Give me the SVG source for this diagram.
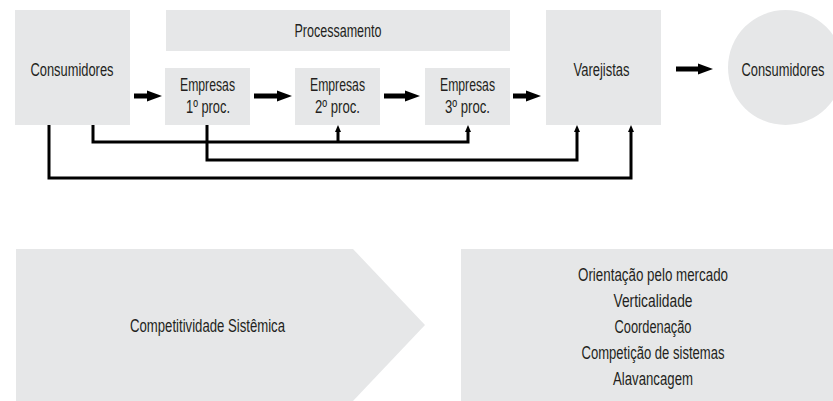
<svg xmlns="http://www.w3.org/2000/svg" width="833" height="401" viewBox="0 0 833 401">
  <defs>
    <style>
      .box { fill: #e6e7e8; stroke: none; }
      .lbl { font-family: "Liberation Sans", Arial, sans-serif; font-size: 17.5px; fill: #231f20; text-anchor: middle; }
      .thick { stroke: #000; stroke-width: 5; fill: none; marker-end: url(#headBig); }
      .thin { stroke: #000; stroke-width: 3; fill: none; stroke-linejoin: miter; marker-end: url(#headSmall); }
    </style>
    <marker id="headBig" markerUnits="userSpaceOnUse" markerWidth="16" markerHeight="12" refX="0" refY="6" orient="auto" viewBox="0 0 16 12">
      <path d="M0,0.5 L15,6 L0,11.5 z" fill="#000"/>
    </marker>
    <marker id="headSmall" markerUnits="userSpaceOnUse" markerWidth="8" markerHeight="7" refX="0" refY="3.5" orient="auto" viewBox="0 0 8 7">
      <path d="M0,0.5 L7,3.5 L0,6.5 z" fill="#000"/>
    </marker>
  </defs>

  <g id="consumidores-origem">
    <rect class="box" x="15" y="10" width="115" height="115"/>
    <text class="lbl" x="72" y="76" textLength="83" lengthAdjust="spacingAndGlyphs">Consumidores</text>
  </g>

  <g id="processamento">
    <rect class="box" x="166" y="10" width="344" height="41"/>
    <text class="lbl" x="338" y="37" textLength="87" lengthAdjust="spacingAndGlyphs">Processamento</text>
  </g>

  <g id="empresas-1">
    <rect class="box" x="165" y="68" width="85" height="57"/>
    <text class="lbl" x="207.5" y="91" textLength="55" lengthAdjust="spacingAndGlyphs">Empresas</text>
    <text class="lbl" x="208" y="113" textLength="44" lengthAdjust="spacingAndGlyphs">1º proc.</text>
  </g>

  <g id="empresas-2">
    <rect class="box" x="295" y="68" width="85" height="57"/>
    <text class="lbl" x="337.5" y="91" textLength="55" lengthAdjust="spacingAndGlyphs">Empresas</text>
    <text class="lbl" x="337.5" y="113" textLength="45" lengthAdjust="spacingAndGlyphs">2º proc.</text>
  </g>

  <g id="empresas-3">
    <rect class="box" x="425" y="68" width="85" height="57"/>
    <text class="lbl" x="467.5" y="91" textLength="55" lengthAdjust="spacingAndGlyphs">Empresas</text>
    <text class="lbl" x="467.5" y="113" textLength="45" lengthAdjust="spacingAndGlyphs">3º proc.</text>
  </g>

  <g id="varejistas">
    <rect class="box" x="546" y="10" width="115" height="115"/>
    <text class="lbl" x="601.5" y="76" textLength="56" lengthAdjust="spacingAndGlyphs">Varejistas</text>
  </g>

  <g id="consumidores-final">
    <circle class="box" cx="785.5" cy="67.5" r="57.5"/>
    <text class="lbl" x="783" y="76" textLength="83" lengthAdjust="spacingAndGlyphs">Consumidores</text>
  </g>

  <g id="competitividade">
    <polygon class="box" points="16,249 353,249 425,325 353,401 16,401"/>
    <text class="lbl" x="207.5" y="332" textLength="155" lengthAdjust="spacingAndGlyphs">Competitividade Sistêmica</text>
  </g>

  <g id="caracteristicas">
    <rect class="box" x="461" y="249" width="372" height="152"/>
    <text class="lbl" x="653" y="281" textLength="150" lengthAdjust="spacingAndGlyphs">Orientação pelo mercado</text>
    <text class="lbl" x="653" y="307" textLength="79" lengthAdjust="spacingAndGlyphs">Verticalidade</text>
    <text class="lbl" x="653" y="333" textLength="77" lengthAdjust="spacingAndGlyphs">Coordenação</text>
    <text class="lbl" x="653" y="359" textLength="143" lengthAdjust="spacingAndGlyphs">Competição de sistemas</text>
    <text class="lbl" x="653" y="385" textLength="80" lengthAdjust="spacingAndGlyphs">Alavancagem</text>
  </g>

  <g id="connectors">
    <line class="thick" x1="134" y1="96" x2="147" y2="96"/>
    <line class="thick" x1="254" y1="96" x2="277" y2="96"/>
    <line class="thick" x1="384" y1="96" x2="405" y2="96"/>
    <line class="thick" x1="513" y1="96" x2="526" y2="96"/>
    <line class="thick" x1="676" y1="69" x2="698" y2="69"/>
    <path class="thin" d="M49,125 V178 H631 V132"/>
    <path class="thin" d="M93,125 V142 H468 V132"/>
    <path class="thin" d="M338,142 V132"/>
    <path class="thin" d="M207,125 V160 H577 V132"/>
  </g>
</svg>
